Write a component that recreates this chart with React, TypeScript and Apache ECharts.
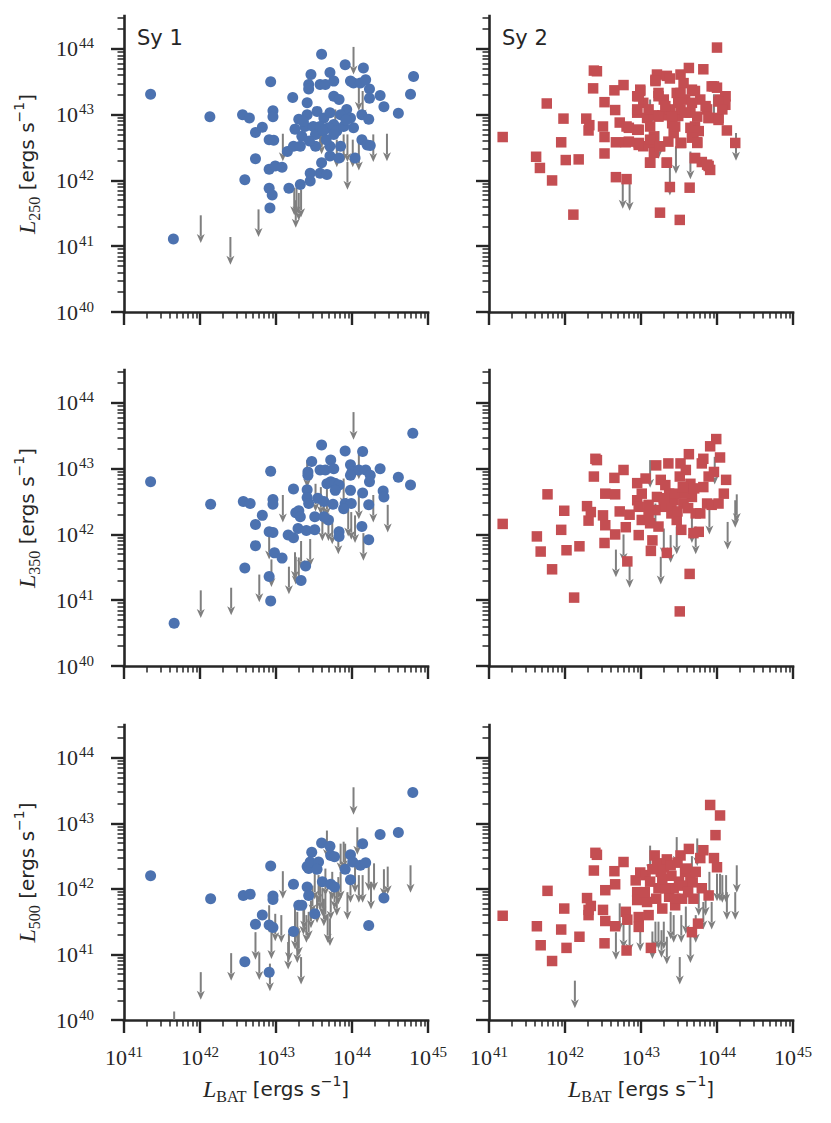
import React, { useEffect, useRef } from 'react';
import * as echarts from 'echarts';

// All luminosities are stored as log10 values (axes run in decades)
const X_MAJOR = [41, 42, 43, 44, 45];
const Y_MAJOR = [40, 41, 42, 43, 44];
const MINOR_MULT = [2, 3, 4, 5, 6, 7, 8, 9];

// Sy 1, L250
const SY1_L250 = [[41.35,43.31],[41.65,41.11],[42.13,42.97],[42.56,43.00],[42.65,42.95],[42.59,42.01],[42.73,42.73],[42.82,42.81],[42.73,42.33],[42.93,43.50],[42.96,43.06],[42.96,42.97],[42.91,42.62],[42.97,42.61],[42.91,42.17],[42.99,42.22],[43.08,42.20],[42.91,41.88],[42.95,41.78],[42.92,41.58],[43.17,41.88],[43.22,43.26],[43.15,42.44],[43.23,42.52],[43.25,42.78],[43.32,42.52],[43.30,42.93],[43.34,42.67],[43.41,43.00],[43.41,43.18],[43.43,43.46],[43.46,43.61],[43.43,43.39],[43.38,42.82],[43.49,42.82],[43.32,41.94],[43.45,41.99],[43.45,42.11],[43.60,43.92],[43.58,43.46],[43.65,43.46],[43.71,43.64],[43.76,43.51],[43.52,42.52],[43.58,42.11],[43.67,42.09],[43.60,42.27],[43.71,42.37],[43.54,43.05],[43.63,42.95],[43.71,43.03],[43.76,42.85],[43.69,42.80],[43.71,42.52],[43.80,42.75],[43.85,42.52],[43.83,42.34],[43.76,43.28],[43.83,43.23],[43.91,43.76],[43.98,43.51],[44.02,43.48],[43.93,43.08],[43.98,42.95],[44.02,42.80],[43.89,42.82],[44.04,42.34],[44.13,42.62],[44.15,43.71],[44.11,43.48],[44.18,43.53],[44.13,43.00],[44.22,42.93],[44.23,43.39],[44.23,43.25],[44.20,42.54],[44.24,42.53],[44.37,43.29],[44.42,43.12],[44.61,43.02],[44.77,43.31],[44.81,43.58],[43.76,42.70],[43.85,43.00],[43.52,42.70],[43.58,42.82],[43.36,42.90],[43.62,42.75],[43.92,42.92],[43.44,42.60],[43.66,42.62]];
const SY1_L250_LIM = [[42.01,41.47],[42.40,41.14],[42.77,41.56],[43.09,42.71],[43.24,41.89],[43.27,41.89],[43.30,41.81],[43.33,41.86],[43.26,41.70],[43.58,42.87],[43.60,42.82],[43.78,43.08],[43.89,42.70],[43.94,42.70],[43.94,42.28],[44.01,42.62],[44.02,44.03],[44.09,43.48],[44.14,43.36],[44.09,42.57],[44.28,42.70],[44.46,42.71],[43.80,42.62]];

// Sy 2, L250
const SY2_L250 = [[41.18,42.66],[41.62,42.36],[41.67,42.19],[41.76,43.17],[41.83,42.00],[41.95,42.58],[41.98,42.94],[42.01,42.31],[42.11,41.48],[42.18,42.32],[42.28,42.94],[42.31,42.76],[42.32,42.84],[42.38,43.67],[42.42,43.66],[42.37,43.40],[42.50,42.82],[42.52,42.66],[42.52,42.41],[42.52,43.19],[42.65,43.37],[42.66,43.07],[42.67,42.05],[42.67,42.58],[42.77,43.45],[42.72,42.88],[42.80,42.58],[42.81,42.02],[42.81,42.82],[42.95,42.77],[42.95,43.28],[42.97,42.57],[42.95,43.03],[42.99,43.38],[43.03,43.18],[43.08,42.95],[43.12,42.27],[43.12,42.57],[43.17,42.67],[43.17,42.42],[43.19,43.53],[43.21,43.61],[43.23,43.28],[43.25,41.51],[43.25,42.52],[43.28,42.99],[43.30,43.23],[43.34,43.59],[43.34,42.27],[43.38,43.55],[43.38,41.90],[43.38,43.08],[43.41,42.87],[43.43,42.72],[43.47,43.33],[43.49,42.98],[43.51,41.40],[43.52,43.61],[43.53,42.57],[43.56,43.48],[43.58,43.23],[43.63,43.71],[43.64,41.89],[43.65,43.03],[43.67,43.38],[43.69,42.67],[43.71,42.82],[43.71,42.34],[43.74,42.58],[43.78,43.23],[43.80,42.28],[43.82,43.69],[43.87,43.08],[43.89,42.95],[43.89,42.22],[43.91,42.16],[43.93,43.43],[44.00,44.02],[44.00,43.41],[44.02,42.95],[44.04,43.23],[44.11,43.28],[44.11,43.15],[44.13,42.76],[44.24,42.57],[43.52,43.08],[43.17,42.99],[43.03,42.52],[43.19,43.51],[42.99,43.36],[42.97,43.28],[43.23,43.33],[43.52,43.33],[43.71,43.36],[43.96,43.43],[44.11,43.28],[44.02,43.20],[42.95,43.08],[43.10,43.08],[43.32,43.13],[43.49,43.18],[43.67,43.18],[43.85,43.13],[44.07,43.08],[43.23,42.97],[43.41,42.97],[43.58,43.03],[43.74,42.97],[43.89,42.95],[44.02,42.92],[42.84,42.80],[42.97,42.77],[43.12,42.82],[43.45,42.82],[43.65,42.80],[43.76,42.75],[42.97,42.54],[43.12,42.62],[43.25,42.52],[43.36,42.59],[43.52,42.57],[43.67,42.65],[43.74,42.57],[42.84,42.59],[43.12,42.27],[43.34,42.27],[43.71,42.34],[43.87,42.24]];
const SY2_L250_LIM = [[42.76,41.99],[42.85,41.96],[43.12,43.23],[43.23,42.75],[43.38,42.19],[43.46,42.52],[43.65,42.44],[43.96,43.31],[44.25,42.72]];

// Sy 1, L350
const SY1_L350 = [[41.35,42.80],[41.66,40.65],[42.14,42.46],[42.57,42.50],[42.66,42.47],[42.82,42.29],[42.73,42.15],[42.73,41.83],[42.59,41.49],[42.93,42.96],[42.96,42.53],[42.96,42.46],[42.91,42.04],[42.96,42.03],[42.98,41.72],[43.08,41.64],[42.91,41.36],[42.93,40.99],[43.23,42.69],[43.16,41.99],[43.23,41.95],[43.26,42.33],[43.30,42.36],[43.32,42.27],[43.29,42.09],[43.39,41.52],[43.33,41.30],[43.40,42.06],[43.41,42.68],[43.42,42.95],[43.42,42.90],[43.47,43.11],[43.41,42.56],[43.43,42.47],[43.51,42.07],[43.51,42.27],[43.55,42.55],[43.58,42.98],[43.65,42.98],[43.60,43.36],[43.63,42.50],[43.67,42.77],[43.72,43.13],[43.76,43.00],[43.72,42.80],[43.77,42.78],[43.83,42.75],[43.78,42.67],[43.75,42.46],[43.69,42.22],[43.83,42.04],[43.83,41.97],[43.91,43.27],[43.98,43.06],[44.00,42.95],[43.98,42.67],[43.91,42.47],[43.99,42.47],[43.89,42.39],[44.09,42.98],[44.14,43.26],[44.18,42.98],[44.24,42.90],[44.23,42.80],[44.14,42.63],[44.22,42.45],[44.13,42.12],[44.22,41.92],[44.37,43.00],[44.41,42.66],[44.42,42.57],[44.61,42.87],[44.77,42.75],[44.80,43.54],[43.98,42.90],[43.63,42.27]];
const SY1_L350_LIM = [[42.01,41.15],[42.41,41.19],[42.78,41.39],[42.91,42.04],[42.94,41.62],[43.09,42.60],[43.17,41.51],[43.25,41.73],[43.26,41.66],[43.30,41.65],[43.33,41.90],[43.45,41.93],[43.52,42.77],[43.59,42.72],[43.61,42.32],[43.67,42.70],[43.69,42.32],[43.74,42.27],[43.82,42.12],[43.89,42.85],[43.95,42.39],[43.99,42.34],[44.04,42.29],[44.02,43.86],[44.09,43.26],[44.09,42.65],[44.15,42.02],[44.28,42.60],[44.47,42.45],[43.41,43.13],[43.63,42.57]];

// Sy 2, L350
const SY2_L350 = [[41.18,42.16],[41.63,41.97],[41.68,41.74],[41.77,42.61],[41.83,41.47],[41.95,42.07],[41.99,42.36],[42.02,41.76],[42.12,41.04],[42.19,41.82],[42.29,42.43],[42.31,42.21],[42.34,42.34],[42.38,42.88],[42.40,43.15],[42.42,43.13],[42.50,42.29],[42.53,42.62],[42.53,42.14],[42.52,41.87],[42.65,42.86],[42.66,42.61],[42.66,42.00],[42.77,42.98],[42.72,42.35],[42.80,42.11],[42.82,41.59],[42.85,42.30],[42.95,42.78],[42.95,42.52],[42.97,42.42],[42.97,41.99],[43.01,42.22],[43.06,42.85],[43.10,42.32],[43.12,42.17],[43.13,41.75],[43.15,41.91],[43.20,43.05],[43.21,42.57],[43.23,42.12],[43.26,42.83],[43.30,42.42],[43.34,41.72],[43.36,43.08],[43.37,42.62],[43.40,42.32],[43.43,42.52],[43.47,42.22],[43.51,42.88],[43.52,43.08],[43.51,40.83],[43.53,42.07],[43.56,42.47],[43.59,42.98],[43.63,43.22],[43.64,41.40],[43.65,42.77],[43.67,42.57],[43.69,42.02],[43.72,42.32],[43.76,42.04],[43.78,42.32],[43.80,43.08],[43.82,43.15],[43.82,42.72],[43.87,42.47],[43.89,42.88],[43.91,43.34],[43.93,42.45],[43.96,42.95],[43.99,43.45],[44.04,43.17],[44.02,42.47],[44.09,42.62],[44.12,42.83],[43.01,42.62],[43.19,42.37],[43.45,42.62],[43.58,42.62],[43.32,42.75],[43.40,42.45],[43.55,42.72],[43.62,42.40],[43.30,42.55],[43.48,42.35],[43.70,42.70],[43.10,42.45]];
const SY2_L350_LIM = [[42.67,41.77],[42.77,42.00],[42.85,41.61],[43.12,43.13],[43.26,41.66],[43.30,42.09],[43.39,41.99],[43.47,42.12],[43.67,42.29],[43.72,42.12],[43.90,42.42],[43.97,43.18],[44.14,42.19],[44.24,42.52],[44.26,42.61],[43.19,42.47]];

// Sy 1, L500
const SY1_L500 = [[41.35,42.20],[42.14,41.85],[42.57,41.90],[42.66,41.92],[42.93,42.35],[42.96,41.89],[42.96,41.84],[42.82,41.60],[42.73,41.46],[42.91,41.45],[42.96,41.41],[42.59,40.89],[42.91,40.73],[43.23,42.07],[43.23,41.35],[43.30,41.75],[43.34,41.75],[43.41,42.03],[43.43,41.90],[43.51,41.62],[43.41,42.34],[43.43,42.31],[43.47,42.56],[43.45,42.41],[43.56,42.41],[43.54,42.30],[43.60,42.70],[43.71,42.65],[43.72,42.51],[43.77,42.49],[43.61,42.11],[43.72,42.07],[43.77,42.03],[43.91,42.30],[43.98,42.52],[44.01,42.41],[43.98,42.14],[44.11,42.36],[44.18,42.40],[44.14,42.69],[44.37,42.83],[44.61,42.86],[44.42,41.86],[44.22,41.44],[44.80,43.47]];
const SY1_L500_LIM = [[41.66,40.13],[42.01,40.73],[42.41,41.02],[42.73,41.34],[42.78,41.03],[42.91,41.75],[42.94,41.35],[42.92,40.86],[42.99,41.62],[43.07,41.60],[43.09,42.27],[43.16,41.19],[43.17,41.32],[43.25,41.71],[43.25,41.50],[43.28,41.65],[43.30,41.40],[43.33,40.96],[43.37,41.80],[43.40,41.60],[43.43,41.65],[43.51,42.26],[43.56,42.21],[43.61,42.01],[43.65,42.31],[43.67,42.89],[43.68,41.60],[43.71,41.55],[43.72,41.95],[43.77,42.11],[43.80,42.01],[43.85,42.26],[43.89,42.72],[43.94,41.95],[43.98,42.21],[44.04,42.36],[44.07,42.94],[44.09,42.21],[44.02,43.55],[44.14,42.21],[44.22,42.39],[44.29,42.39],[44.25,42.11],[44.42,42.30],[44.47,42.34],[44.77,42.36],[43.85,42.69],[43.91,42.69],[43.63,41.85],[43.54,41.90],[43.74,42.26],[43.28,41.29],[43.48,42.05],[43.58,42.10],[43.82,42.18],[43.36,41.72],[43.46,41.82],[43.65,41.92]];

// Sy 2, L500
const SY2_L500 = [[41.18,41.59],[41.63,41.43],[41.68,41.14],[41.77,41.97],[41.83,40.90],[41.95,41.38],[41.99,41.70],[42.02,41.10],[42.19,41.27],[42.29,41.86],[42.31,41.60],[42.34,41.74],[42.31,41.68],[42.38,42.28],[42.40,42.55],[42.42,42.52],[42.50,41.68],[42.53,41.98],[42.53,41.51],[42.52,41.17],[42.65,42.27],[42.66,42.07],[42.66,41.43],[42.77,42.41],[42.80,41.65],[42.82,41.53],[42.81,41.06],[42.93,42.13],[42.95,41.95],[42.95,41.83],[42.97,41.57],[42.97,41.42],[42.99,42.25],[43.06,42.21],[43.08,41.80],[43.10,41.60],[43.13,41.10],[43.12,42.11],[43.18,42.51],[43.21,42.39],[43.23,42.01],[43.26,42.26],[43.28,41.70],[43.30,42.33],[43.34,42.45],[43.37,41.88],[43.39,42.36],[43.43,42.01],[43.45,41.75],[43.50,42.11],[43.52,42.51],[43.54,41.85],[43.58,42.26],[43.60,42.31],[43.63,42.61],[43.65,42.16],[43.67,41.34],[43.69,41.85],[43.72,42.26],[43.75,41.47],[43.78,42.47],[43.80,42.01],[43.82,42.59],[43.89,41.90],[43.91,43.28],[43.96,42.47],[43.98,42.82],[44.00,42.33],[44.04,43.12],[43.45,41.85],[43.32,42.01],[43.15,42.30],[43.28,42.15],[43.40,42.20],[43.55,42.05],[43.68,42.10],[43.05,41.95],[43.20,41.85],[43.48,42.40],[43.62,41.95]];
const SY2_L500_LIM = [[42.13,40.60],[42.67,41.34],[42.72,41.78],[42.77,41.51],[42.85,41.45],[42.99,41.47],[43.12,42.66],[43.15,41.35],[43.19,41.50],[43.23,41.50],[43.27,41.37],[43.30,41.50],[43.34,41.27],[43.39,41.65],[43.43,41.60],[43.47,42.79],[43.51,40.96],[43.53,41.60],[43.59,41.73],[43.65,41.29],[43.67,42.50],[43.72,41.60],[43.74,42.77],[43.82,41.80],[43.90,42.26],[43.93,41.80],[44.00,42.23],[44.04,42.23],[44.07,42.21],[44.12,42.21],[44.13,41.95],[44.24,41.95],[44.26,42.36],[43.85,42.01],[43.76,42.01]];

const ROW_BANDS = ['250', '350', '500'];
const PANEL_LABELS = ['Sy 1', 'Sy 2'];

const TEXT = '#262626';
const BLUE = '#4C72B0';
const RED = '#C44E52';
const ARROW = '#7f7f7f';
const ARROW_DEC = 0.42;

const minorTicks = (from: number, to: number, max: number) => {
  const out: number[] = [];
  for (let n = from; n <= to; n++) {
    for (const k of MINOR_MULT) {
      const v = n + Math.log10(k);
      if (v < max) out.push(v);
    }
  }
  return out;
};
const X_MINOR = minorTicks(41, 44, 45);
const Y_MINOR = minorTicks(40, 44, 44.5);

const TICK_RICH = {
  b: { fontFamily: 'Liberation Serif', fontSize: 22, color: TEXT, lineHeight: 26 },
  s: { fontFamily: 'Liberation Serif', fontSize: 15, color: TEXT, lineHeight: 15, verticalAlign: 'top', padding: [0, 0, 0, 1] },
};
const TITLE_RICH = {
  L: { fontFamily: 'Liberation Serif', fontStyle: 'italic', fontSize: 24, color: TEXT, lineHeight: 30 },
  sub: { fontFamily: 'Liberation Serif', fontSize: 16, color: TEXT, lineHeight: 18, verticalAlign: 'bottom' },
  t: { fontFamily: 'DejaVu Sans', fontSize: 20, color: TEXT, lineHeight: 30 },
  sup: { fontFamily: 'DejaVu Sans', fontSize: 14, color: TEXT, lineHeight: 20, verticalAlign: 'top' },
};

const GRIDS = [
  { left: 124, top: 16, width: 304, height: 296 },
  { left: 489, top: 16, width: 304, height: 296 },
  { left: 124, top: 370, width: 304, height: 296 },
  { left: 489, top: 370, width: 304, height: 296 },
  { left: 124, top: 725, width: 304, height: 295 },
  { left: 489, top: 725, width: 304, height: 295 },
];

const PANELS = [
  { pts: SY1_L250, lims: SY1_L250_LIM, type: 1 },
  { pts: SY2_L250, lims: SY2_L250_LIM, type: 2 },
  { pts: SY1_L350, lims: SY1_L350_LIM, type: 1 },
  { pts: SY2_L350, lims: SY2_L350_LIM, type: 2 },
  { pts: SY1_L500, lims: SY1_L500_LIM, type: 1 },
  { pts: SY2_L500, lims: SY2_L500_LIM, type: 2 },
];

const renderArrow = (params: any, api: any) => {
  const x = api.value(0);
  const y = api.value(1);
  const p1 = api.coord([x, y]);
  const p2 = api.coord([x, y - ARROW_DEC]);
  const hl = 9;
  const hw = 4;
  return {
    type: 'group',
    children: [
      {
        type: 'line',
        shape: { x1: p1[0], y1: p1[1], x2: p2[0], y2: p2[1] - hl + 2 },
        style: { stroke: ARROW, lineWidth: 2 },
      },
      {
        type: 'polygon',
        shape: {
          points: [
            [p2[0] - hw, p2[1] - hl],
            [p2[0], p2[1] - hl + 2.5],
            [p2[0] + hw, p2[1] - hl],
            [p2[0], p2[1]],
          ],
        },
        style: { fill: ARROW },
      },
    ],
  };
};

function buildOption() {
  const xAxis: any[] = [];
  const yAxis: any[] = [];
  const series: any[] = [];
  GRIDS.forEach((_, i) => {
    const row = Math.floor(i / 2);
    const col = i % 2;
    const bottomRow = row === 2;
    const leftCol = col === 0;
    xAxis.push({
      type: 'value', gridIndex: i, min: 41, max: 45, position: 'bottom',
      axisLine: { show: true, onZero: false, lineStyle: { color: TEXT, width: 2.6, cap: 'square' } },
      axisTick: { show: true, customValues: X_MAJOR, length: 13, lineStyle: { color: TEXT, width: 2.4 } },
      axisLabel: {
        show: bottomRow, customValues: X_MAJOR, margin: 24,
        formatter: (v: number) => `{b|10}{s|${v}}`, rich: TICK_RICH,
      },
      splitLine: { show: false },
      name: bottomRow ? '{L|L}{sub|BAT}{t| [ergs s}{sup|−1}{t|]}' : '',
      nameLocation: 'middle', nameGap: 54,
      nameTextStyle: { rich: TITLE_RICH },
    });
    xAxis.push({
      type: 'value', gridIndex: i, min: 41, max: 45, position: 'bottom',
      axisLine: { show: false, onZero: false },
      axisTick: { show: true, customValues: X_MINOR, length: 6.5, lineStyle: { color: TEXT, width: 1.5 } },
      axisLabel: { show: false },
      splitLine: { show: false },
    });
    yAxis.push({
      type: 'value', gridIndex: i, min: 40, max: 44.5, position: 'left',
      axisLine: { show: true, onZero: false, lineStyle: { color: TEXT, width: 2.6, cap: 'square' } },
      axisTick: { show: true, customValues: Y_MAJOR, length: 13, lineStyle: { color: TEXT, width: 2.4 } },
      axisLabel: {
        show: leftCol, customValues: Y_MAJOR, margin: 30,
        formatter: (v: number) => `{b|10}{s|${v}}`, rich: TICK_RICH,
      },
      splitLine: { show: false },
      name: leftCol ? `{L|L}{sub|${ROW_BANDS[row]}}{t| [ergs s}{sup|−1}{t|]}` : '',
      nameLocation: 'middle', nameGap: 82, nameRotate: 90,
      nameTextStyle: { rich: TITLE_RICH },
    });
    yAxis.push({
      type: 'value', gridIndex: i, min: 40, max: 44.5, position: 'left',
      axisLine: { show: false, onZero: false },
      axisTick: { show: true, customValues: Y_MINOR, length: 6.5, lineStyle: { color: TEXT, width: 1.5 } },
      axisLabel: { show: false },
      splitLine: { show: false },
    });
    const p = PANELS[i];
    series.push({
      type: 'custom', xAxisIndex: 2 * i, yAxisIndex: 2 * i,
      data: p.lims, renderItem: renderArrow, clip: true, z: 2, silent: true,
      encode: { x: 0, y: 1 },
    });
    series.push({
      type: 'scatter', xAxisIndex: 2 * i, yAxisIndex: 2 * i,
      data: p.pts,
      symbol: p.type === 1 ? 'circle' : 'rect',
      symbolSize: p.type === 1 ? 11 : 10.5,
      itemStyle: { color: p.type === 1 ? BLUE : RED, opacity: 1 },
      z: 3, silent: true,
    });
  });

  return {
    animation: false,
    backgroundColor: '#ffffff',
    grid: GRIDS.map((g) => ({ ...g, containLabel: false, outerBoundsMode: 'none' })),
    xAxis,
    yAxis,
    series,
    graphic: [
      { type: 'text', left: 137, top: 27, style: { text: PANEL_LABELS[0], font: '21px "DejaVu Sans"', fill: TEXT } },
      { type: 'text', left: 502, top: 27, style: { text: PANEL_LABELS[1], font: '21px "DejaVu Sans"', fill: TEXT } },
    ],
  };
}

export default function App() {
  const ref = useRef<HTMLDivElement>(null);
  useEffect(() => {
    if (!ref.current) return;
    const chart = echarts.init(ref.current, null, { renderer: 'svg' });
    chart.setOption(buildOption() as any);
    return () => chart.dispose();
  }, []);
  return (
    <div
      ref={ref}
      style={{ position: 'absolute', left: 0, top: 0, width: 831, height: 1123, background: '#fff' }}
    />
  );
}
